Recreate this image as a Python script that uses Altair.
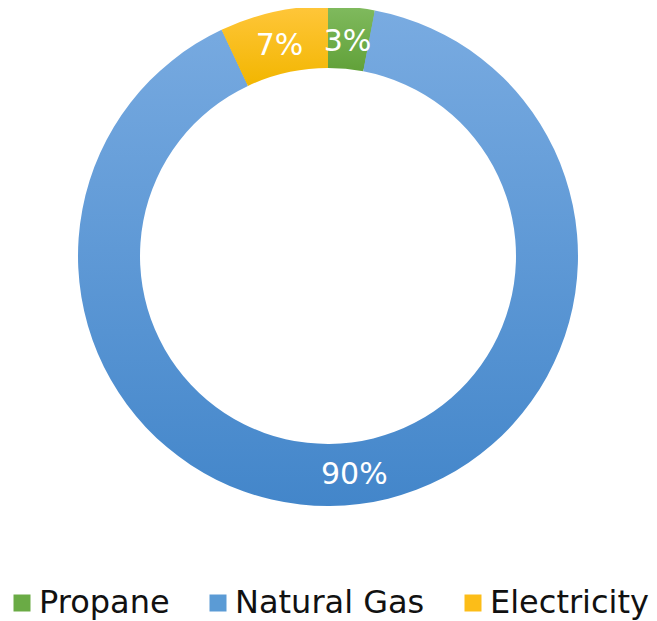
import altair as alt
import pandas as pd

categories = ["Propane", "Natural Gas", "Electricity"]
values = [3, 90, 7]
labels = ["3%", "90%", "7%"]
order = [1, 2, 3]
colors = ["#6aab45", "#5b9bd5", "#fcbd18"]
grad_top = ["#80ba5e", "#79abe1", "#ffc63a"]
grad_bottom = ["#61a139", "#4386ca", "#f2b600"]

df = pd.DataFrame({"category": categories, "value": values, "label": labels, "order": order})

base = alt.Chart(df).transform_window(
    end="sum(value)", sort=[alt.SortField("order")], frame=[None, 0]
).transform_calculate(
    start="datum.end - datum.value", mid="datum.end - datum.value / 2"
)

theta_scale = alt.Scale(domain=[0, 100])
CX, CY = 320, 248

legend_layer = base.mark_arc(outerRadius=248, innerRadius=190).encode(
    theta=alt.Theta("start:Q", scale=theta_scale, stack=None),
    theta2="end:Q",
    x=alt.value(CX),
    y=alt.value(CY),
    color=alt.Color(
        "category:N",
        scale=alt.Scale(domain=categories, range=colors),
        legend=alt.Legend(
            orient="none", legendX=-2, legendY=579, direction="horizontal",
            title=None, symbolType="square", symbolSize=289, symbolStrokeWidth=0,
            labelFont="DejaVu Sans", labelFontSize=32, labelColor="#111111",
            labelOffset=1, columnPadding=32, padding=0, labelLimit=0,
        ),
    ),
)

layers = [legend_layer]
for cat, top, bot in zip(categories, grad_top, grad_bottom):
    grad = {
        "gradient": "linear", "x1": 0, "y1": 0, "x2": 0, "y2": 1,
        "stops": [{"offset": 0, "color": top}, {"offset": 1, "color": bot}],
    }
    layers.append(
        base.transform_filter(alt.datum.category == cat)
        .mark_arc(outerRadius=250, innerRadius=188, fill=grad)
        .encode(
            theta=alt.Theta("start:Q", scale=theta_scale, stack=None),
            theta2="end:Q",
            x=alt.value(CX),
            y=alt.value(CY),
        )
    )

text_layer = base.mark_text(
    radius=218, font="DejaVu Sans", fontSize=30, color="white",
    align="center", baseline="middle",
).encode(
    theta=alt.Theta("mid:Q", scale=theta_scale, stack=None),
    text="label:N",
    x=alt.value(CX - 1),
    y=alt.value(CY + 3),
)
layers.append(text_layer)

chart = alt.layer(*layers).properties(
    width=641, height=613, padding=0, autosize=alt.AutoSizeParams(type="none"),
    background="white",
).configure_view(stroke=None)

chart.save("out.html", embed_options={"renderer": "svg", "actions": False})
